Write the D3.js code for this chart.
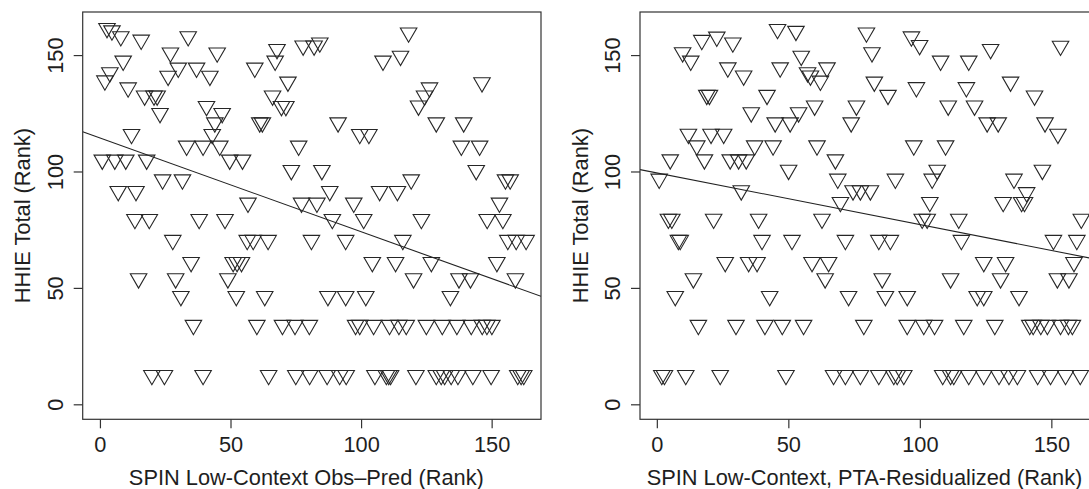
<!DOCTYPE html>
<html>
<head>
<meta charset="utf-8">
<script src="https://cdn.jsdelivr.net/npm/d3@7"></script>
<style>
  body { margin: 0; background: #fff; }
  svg { display: block; }
  text { font-family: "Liberation Sans", Arial, Helvetica, sans-serif; fill: #1e1e1e; }
</style>
</head>
<body>
<svg id="chart" width="1089" height="489"></svg>
<script>
// Tick values shared by both panels
const xTicks = [0, 50, 100, 150];
const yTicks = [0, 50, 100, 150];

// Axis titles
const xTitles = ["SPIN Low-Context Obs\u2013Pred (Rank)", "SPIN Low-Context, PTA-Residualized (Rank)"];
const yTitle = "HHIE Total (Rank)";

// Panel A: [SPIN obs-pred rank, HHIE total rank]
const obsPredPoints = [
  [2.7,161.5],[4.6,160.5],[8.0,158],[33.8,158],[15.8,156.5],[27.0,151],[44.9,151],[67.8,152.5],
  [8.9,147.5],[67.1,147.5],[3.8,142.5],[1.9,139],[30.0,144.5],[37.0,144.5],[59.3,144.5],[26.1,141],
  [42.1,141],[72.0,138.5],[10.8,136],[17.1,132.5],[20.7,132.5],[21.9,132.5],[66.1,132.5],[23.0,125],
  [46.8,125],[40.8,128],[69.5,128],[71.2,128],[44.0,121],[61.2,121],[62.2,121],[12.1,116],[43.0,116],
  [39.5,111],[33.2,111],[45.9,111],[0.9,105],[5.7,105],[9.9,105],[17.9,105],[49.7,105],[54.6,105],
  [24.0,96.5],[31.6,96.5],[73.3,100.5],[7.0,91.5],[13.8,91.5],[56.7,86.5],[13.4,79.5],[18.9,79.5],
  [38.0,79.5],[47.9,79.5],
  [77.8,154],[82.0,154],[84.2,155.3],[118.2,159.6],[108.4,147.5],[115.1,149.6],[146.3,138.2],[126.2,136],
  [124.3,132.5],[122.0,128.2],[91.2,121],[99.5,116],[103.0,116],[128.8,121],[139.3,121],[76.1,111],
  [138.4,111],[145.4,111],[85.0,100.5],[144.1,100.5],[119.2,96.5],[107.1,91.5],[113.9,91.5],[155.3,96.5],
  [157.1,96.5],[88.0,91.5],[77.2,86.5],[83.1,86.5],[97.2,86.5],[153.0,86.5],[89.0,79.5],[101.0,79.5],
  [123.1,79.5],[148.3,79.5],[154.3,79.5],
  [27.9,70.5],[56.4,70.5],[58.7,70.5],[64.4,70.5],[81.0,70.5],[94.1,70.5],[116.0,70.5],[156.2,70.5],
  [159.4,70.5],[163.2,70.5],
  [34.9,61],[51.0,61],[52.5,61],[54.2,61],[104.3,61],[113.2,61],[126.9,61],[152.0,61],
  [14.8,54],[29.0,54],[49.0,54],[120.1,54],[137.5,54],[141.9,54],[159.1,54],
  [31.0,46.4],[52.2,46.4],[63.1,46.4],[87.3,46.4],[94.1,46.4],[101.8,46.4],[134.2,46.4],
  [35.8,34],[60.1,34],[69.9,34],[74.7,34],[80.2,34],[97.9,34],[99.5,34],[104.8,34],[110.9,34],
  [114.5,34],[117.3,34],[125.0,34],[131.1,34],[136.7,34],[142.2,34],[146.4,34],[148.2,34],[150.1,34],
  [19.9,12.5],[24.7,12.5],[39.5,12.5],[64.6,12.5],[75.0,12.5],[80.3,12.5],[87.0,12.5],[91.8,12.5],
  [94.3,12.5],[105.3,12.5],[109.7,12.5],[110.6,12.5],[111.3,12.5],[121.0,12.5],[128.8,12.5],[130.7,12.5],
  [132.0,12.5],[134.5,12.5],[137.1,12.5],[142.8,12.5],[149.8,12.5],[160.0,12.5],[161.3,12.5],[162.3,12.5]
];

// Panel B: [SPIN PTA-residualized rank, HHIE total rank]
const ptaResidPoints = [
  [45.9,161.1],[52.9,160.3],[17.1,156.4],[22.8,157.8],[28.9,155.3],[9.8,151.1],[12.9,147.5],[54.9,149.6],
  [27.0,144.6],[33.0,141.1],[46.9,144.6],[57.3,142.5],[58.4,141.1],[62.2,138.9],[64.7,144.6],[19.0,132.8],
  [20.0,132.8],[41.9,132.8],[35.9,125.3],[60.0,128.2],[53.9,125.3],[45.0,121],[50.7,121],[12.0,116.1],
  [15.2,111.1],[20.6,116.1],[25.4,116.1],[37.2,111.1],[44.2,111.1],[60.9,111.1],[5.1,105.1],[18.1,105.1],
  [27.9,105.1],[31.1,105.1],[34.0,105.1],[50.1,100.6],[0.9,96.8],[32.1,91.8],[4.4,79.6],[5.7,79.6],
  [21.6,79.6],[38.7,79.6],[62.8,79.6],
  [79.7,159.6],[96.8,157.9],[99.9,154.2],[81.8,151.1],[126.9,152.5],[153.5,153.9],[107.9,147.5],[118.6,147.5],
  [82.7,138.5],[87.9,132.8],[98.7,136.1],[117.7,136.1],[134.5,138.5],[143.6,132.5],[75.9,128.2],[73.9,121],
  [110.8,128.2],[120.8,128.2],[125.6,121],[129.8,121],[147.6,121],[152.5,116.1],[67.9,105.1],[97.7,111.1],
  [109.8,111.1],[106.6,100.6],[146.6,100.6],[68.8,96.8],[74.6,91.8],[77.4,91.8],[81.2,91.8],[90.7,96.8],
  [104.7,96.8],[135.8,96.8],[140.6,91],[69.8,86.8],[103.8,86.8],[131.7,86.8],[138.7,86.8],[139.8,86.8],
  [100.9,79.6],[102.8,79.6],[114.8,79.6],[161.4,79.6],
  [8.2,70.5],[8.9,70.5],[40.0,70.5],[51.4,70.5],[71.7,70.5],[84.4,70.5],[88.8,70.5],[115.8,70.5],
  [150.8,70.5],[159.7,70.5],
  [26.0,61],[34.9,61],[38.1,61],[59.0,61],[65.3,61],[124.3,61],[132.6,61],[158.6,61],
  [13.9,54],[64.0,54],[85.7,54],[111.7,54],[130.7,54],[152.3,54],[156.7,54],
  [7.0,46.4],[42.9,46.4],[72.9,46.4],[86.9,46.4],[95.2,46.4],[121.8,46.4],[124.3,46.4],[137.7,46.4],
  [15.8,34],[30.1,34],[41.1,34],[47.7,34],[55.8,34],[78.7,34],[95.2,34],[101.5,34],[105.6,34],
  [116.7,34],[128.5,34],[141.8,34],[143.1,34],[146.0,34],[148.5,34],[153.5,34],[156.5,34],[158.0,34],
  [1.9,12.5],[2.9,12.5],[11.0,12.5],[24.1,12.5],[49.1,12.5],[67.2,12.5],[71.7,12.5],[77.4,12.5],
  [84.4,12.5],[90.1,12.5],[91.4,12.5],[93.9,12.5],[108.7,12.5],[111.7,12.5],[112.9,12.5],[118.6,12.5],
  [124.3,12.5],[130.1,12.5],[133.9,12.5],[137.1,12.5],[144.8,12.5],[149.7,12.5],[155.4,12.5],[161.0,12.5]
];

// Least-squares fits [intercept, slope]
const obsPredFit = [114.4, -0.4027];
const ptaResidFit = [99.4, -0.2221];

// ---- layout ----
const svg = d3.select("#chart");
const FONT = 21.8;
const plotTop = 12, plotBottom = 419.3;
const yDomain = [-6.44, 168.5];

const panels = [
  { id: "a", left: 82.7, right: 541, xDomain: [-6.6, 168.9], points: obsPredPoints, fit: obsPredFit,
    title: xTitles[0], titleShift: -5.5, yTickLabelX: 62.8, yTitleX: 29.6 },
  { id: "b", left: 640, right: 1100, xDomain: [-6.4, 168.5], points: ptaResidPoints, fit: ptaResidFit,
    title: xTitles[1], titleShift: -5.5, yTickLabelX: 619.5, yTitleX: 587.6 }
];

const tri = d3.symbol().type(d3.symbolTriangle).size(118)();

panels.forEach(p => {
  const x = d3.scaleLinear().domain(p.xDomain).range([p.left, p.right]);
  const y = d3.scaleLinear().domain(yDomain).range([plotBottom, plotTop]);

  const clipId = "clip-" + p.id;
  svg.append("clipPath").attr("id", clipId)
    .append("rect")
    .attr("x", p.left).attr("y", plotTop)
    .attr("width", p.right - p.left).attr("height", plotBottom - plotTop);

  // points (downward triangles)
  svg.append("g")
    .selectAll("path")
    .data(p.points)
    .join("path")
    .attr("d", tri)
    .attr("transform", d => `translate(${x(d[0])},${y(d[1])}) rotate(180)`)
    .attr("fill", "none")
    .attr("stroke", "#262626")
    .attr("stroke-width", 1.1);

  // fitted line across the plotting region
  const [a, b] = p.fit;
  svg.append("line")
    .attr("clip-path", `url(#${clipId})`)
    .attr("x1", x(p.xDomain[0])).attr("y1", y(a + b * p.xDomain[0]))
    .attr("x2", x(p.xDomain[1])).attr("y2", y(a + b * p.xDomain[1]))
    .attr("stroke", "#222").attr("stroke-width", 1.1);

  // frame
  svg.append("rect")
    .attr("x", p.left).attr("y", plotTop)
    .attr("width", p.right - p.left).attr("height", plotBottom - plotTop)
    .attr("fill", "none").attr("stroke", "#333").attr("stroke-width", 1.2);

  // x axis
  const gx = svg.append("g")
    .attr("transform", `translate(0,${plotBottom})`)
    .call(d3.axisBottom(x).tickValues(xTicks).tickSize(9).tickSizeOuter(0));
  gx.select(".domain").remove();
  gx.selectAll(".tick line").attr("stroke", "#333").attr("stroke-width", 1.2);
  gx.selectAll(".tick text")
    .attr("y", 452.2 - plotBottom).attr("dy", 0)
    .style("font-size", FONT + "px")
    .attr("fill", "#1e1e1e");

  // y axis
  const gy = svg.append("g")
    .attr("transform", `translate(${p.left},0)`)
    .call(d3.axisLeft(y).tickValues(yTicks).tickSize(9).tickSizeOuter(0));
  gy.select(".domain").remove();
  gy.selectAll(".tick line").attr("stroke", "#333").attr("stroke-width", 1.2);
  gy.selectAll(".tick text")
    .attr("x", 0).attr("y", 0).attr("dy", 0)
    .attr("text-anchor", "middle")
    .attr("transform", `translate(${p.yTickLabelX - p.left},0) rotate(-90)`)
    .style("font-size", FONT + "px")
    .attr("fill", "#1e1e1e");

  // axis titles
  svg.append("text")
    .attr("x", (p.left + p.right) / 2 + p.titleShift)
    .attr("y", 484.6)
    .attr("text-anchor", "middle")
    .style("font-size", FONT + "px")
    .text(p.title);

  svg.append("text")
    .attr("transform", `translate(${p.yTitleX},${(plotTop + plotBottom) / 2}) rotate(-90)`)
    .attr("text-anchor", "middle")
    .style("font-size", FONT + "px")
    .text(yTitle);
});
</script>
</body>
</html>
